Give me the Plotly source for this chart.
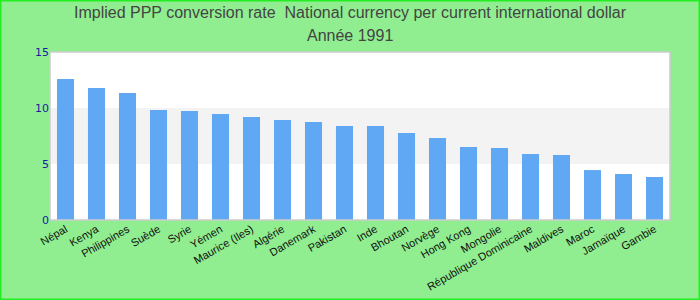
import plotly.graph_objects as go

countries = ["Népal", "Kenya", "Philippines", "Suède", "Syrie", "Yémen", "Maurice (Iles)",
             "Algérie", "Danemark", "Pakistan", "Inde", "Bhoutan", "Norvège", "Hong Kong",
             "Mongolie", "République Dominicaine", "Maldives", "Maroc", "Jamaïque", "Gambie"]
values = [12.59, 11.79, 11.34, 9.82, 9.73, 9.46, 9.2, 8.93, 8.75, 8.39,
          8.39, 7.77, 7.32, 6.52, 6.43, 5.89, 5.8, 4.46, 4.11, 3.84]
y_ticks = [0, 5, 10, 15]
title_lines = ["Implied PPP conversion rate  National currency per current international dollar",
               "Année 1991"]

W, H = 700, 300
L, R, T, B = 50, 30, 52, 80
pw, ph = W - L - R, H - T - B

fig = go.Figure(go.Bar(x=countries, y=values, marker=dict(color="#60a8f4", line=dict(width=0)),
                       width=0.55))

shapes = [
    dict(type="rect", xref="paper", yref="y", x0=0, x1=1, y0=5, y1=10,
         fillcolor="#f3f3f3", line=dict(width=0), layer="below"),
    dict(type="rect", xref="paper", yref="paper", x0=0, x1=1, y0=0, y1=1,
         line=dict(color="#cccccc", width=1.5), layer="above"),
    dict(type="rect", xref="paper", yref="paper",
         x0=-L / pw, x1=(W - L) / pw, y0=-B / ph, y1=(H - B) / ph,
         line=dict(color="#22ee22", width=3), fillcolor="rgba(0,0,0,0)"),
]

title_font = dict(size=16, color="#444444", family="Liberation Sans, Arial, sans-serif")
annotations = []
for txt, ypx in zip(title_lines, [13, 36]):
    annotations.append(dict(text=txt, xref="paper", yref="paper",
                            x=(W / 2 - L) / pw, y=(H - B - ypx) / ph,
                            xanchor="center", yanchor="middle", showarrow=False,
                            font=title_font))

fig.update_layout(
    width=W, height=H,
    margin=dict(l=L, r=R, t=T, b=B, autoexpand=False),
    paper_bgcolor="#90ee90", plot_bgcolor="white",
    font=dict(family="Liberation Sans, Arial, sans-serif"),
    xaxis=dict(tickangle=-30, tickfont=dict(size=11, color="#111111"), showgrid=False,
               ticks="", showline=False, automargin=False),
    yaxis=dict(range=[0, 15], tickvals=y_ticks, showgrid=False, zeroline=False,
               tickfont=dict(size=11, color="#1a1aa0", family="DejaVu Sans, sans-serif"),
               ticks="", ticklen=0, automargin=False),
    shapes=shapes,
    annotations=annotations,
    bargap=0.45,
    showlegend=False,
)

fig.write_html("out.html")
